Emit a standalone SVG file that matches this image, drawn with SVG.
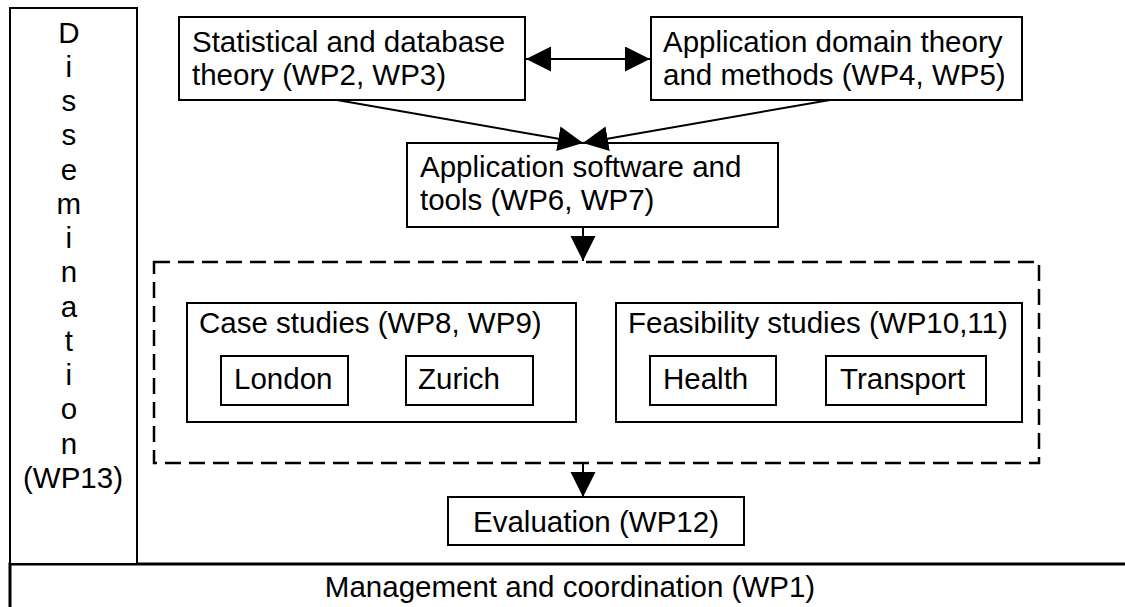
<svg xmlns="http://www.w3.org/2000/svg" width="1125" height="607" viewBox="0 0 1125 607">
<defs>
<style>
.box{fill:#fff;stroke:#000;stroke-width:2}
.dash{fill:none;stroke:#000;stroke-width:2.5;stroke-dasharray:16 8}
.t{font-family:"Liberation Sans",Arial,sans-serif;font-size:29.5px;fill:#000}
.c{text-anchor:middle}
.ln{stroke:#000;stroke-width:2;fill:none}
</style>
<marker id="ah" markerUnits="userSpaceOnUse" markerWidth="26" markerHeight="26" refX="25" refY="12.5" orient="auto-start-reverse" viewBox="0 0 26 26">
<path d="M0,0 L25,12.5 L0,25 z" fill="#000"/>
</marker>
</defs>
<rect width="1125" height="607" fill="#fff"/>
<g id="management">
<rect x="10" y="564" width="1130" height="60" class="box" style="stroke-width:3"/>
<text x="570" y="597" class="t c">Management and coordination (WP1)</text>
</g>
<g id="dissemination">
<rect x="10" y="8" width="127" height="556" class="box"/>
<text class="t c">
<tspan x="73" y="43">D</tspan>
<tspan x="73" y="77">i</tspan>
<tspan x="73" y="111">s</tspan>
<tspan x="73" y="145">s</tspan>
<tspan x="73" y="180">e</tspan>
<tspan x="73" y="214">m</tspan>
<tspan x="73" y="248">i</tspan>
<tspan x="73" y="282">n</tspan>
<tspan x="73" y="317">a</tspan>
<tspan x="73" y="351">t</tspan>
<tspan x="73" y="385">i</tspan>
<tspan x="73" y="419">o</tspan>
<tspan x="73" y="454">n</tspan>
<tspan x="73" y="488">(WP13)</tspan>
</text>
</g>
<g id="stats">
<rect x="179" y="17" width="346" height="83" class="box"/>
<text class="t"><tspan x="192" y="52">Statistical and database</tspan><tspan x="192" y="85">theory (WP2, WP3)</tspan></text>
</g>
<g id="domain">
<rect x="651" y="17" width="371" height="83" class="box"/>
<text class="t"><tspan x="663" y="52">Application domain theory</tspan><tspan x="663" y="85">and methods (WP4, WP5)</tspan></text>
</g>
<g id="software">
<rect x="407" y="143" width="371" height="84" class="box"/>
<text class="t"><tspan x="420" y="177">Application software and</tspan><tspan x="420" y="210">tools (WP6, WP7)</tspan></text>
</g>
<g id="studies-group">
<rect x="154" y="262" width="885" height="201" class="dash"/>
</g>
<g id="case">
<rect x="187" y="303" width="389" height="119" class="box"/>
<text x="199" y="333" class="t">Case studies (WP8, WP9)</text>
</g>
<g id="london">
<rect x="221" y="356" width="127" height="49" class="box"/>
<text x="234" y="389" class="t">London</text>
</g>
<g id="zurich">
<rect x="406" y="356" width="127" height="49" class="box"/>
<text x="418" y="389" class="t">Zurich</text>
</g>
<g id="feasibility">
<rect x="616" y="303" width="406" height="119" class="box"/>
<text x="628" y="333" class="t">Feasibility studies (WP10,11)</text>
</g>
<g id="health">
<rect x="650" y="356" width="126" height="49" class="box"/>
<text x="663" y="389" class="t">Health</text>
</g>
<g id="transport">
<rect x="826" y="356" width="160" height="49" class="box"/>
<text x="840" y="389" class="t">Transport</text>
</g>
<g id="evaluation">
<rect x="448" y="497" width="296" height="48" class="box"/>
<text x="596" y="532" class="t c">Evaluation (WP12)</text>
</g>
<g id="connectors">
<line x1="526" y1="59" x2="650" y2="59" class="ln" marker-start="url(#ah)" marker-end="url(#ah)"/>
<line x1="337" y1="100" x2="583" y2="143" class="ln" marker-end="url(#ah)"/>
<line x1="830" y1="100" x2="583" y2="143" class="ln" marker-end="url(#ah)"/>
<line x1="583" y1="227" x2="583" y2="261" class="ln" marker-end="url(#ah)"/>
<line x1="583" y1="463" x2="583" y2="497" class="ln" marker-end="url(#ah)"/>
</g>
</svg>
